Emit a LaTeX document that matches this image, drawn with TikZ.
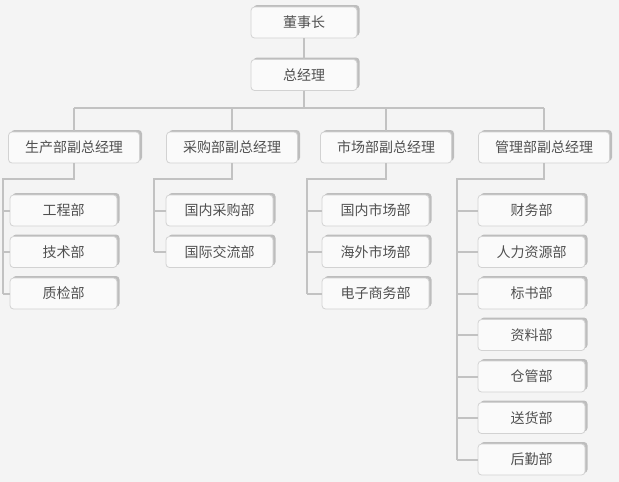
\documentclass[tikz,border=0pt]{standalone}
\usepackage{fontspec}
\setmainfont{Noto Sans CJK SC}
\usetikzlibrary{shadows}
\definecolor{bg}{HTML}{F4F4F4}
\definecolor{boxfill}{HTML}{FAFAFA}
\definecolor{boxline}{HTML}{D2D2D2}
\definecolor{shadowc}{HTML}{BDBDBD}
\definecolor{linec}{HTML}{C2C2C2}
\definecolor{txt}{HTML}{505050}
\begin{document}
\begin{tikzpicture}[x=1pt,y=-1pt,
  box/.style={draw=boxline, line width=0.8pt, fill=boxfill, rounded corners=3.5pt,
    text=txt, font=\fontsize{14pt}{16pt}\selectfont, inner sep=0pt,
    drop shadow={shadow xshift=2.5pt, shadow yshift=2pt, fill=shadowc, opacity=1}},
  topbox/.style={box, minimum width=106pt, minimum height=31pt},
  midbox/.style={box, minimum width=131pt, minimum height=31pt},
  leafbox/.style={box, minimum width=107pt, minimum height=31pt},
  conn/.style={draw=linec, line width=2pt}]
\fill[bg] (0,0) rectangle (619,482);
\useasboundingbox (0,0) rectangle (619,482);
% top
\node[topbox] (ceo) at (304,22.5) {董事长};
\node[topbox] (gm) at (304,75) {总经理};
% level 2
\node[midbox] (prod) at (74,147.5) {生产部副总经理};
\node[midbox] (purch) at (232,147.5) {采购部副总经理};
\node[midbox] (mkt) at (386,147.5) {市场部副总经理};
\node[midbox] (mgmt) at (544,147.5) {管理部副总经理};
% level 3 production
\node[leafbox] (p1) at (63.5,210.5) {工程部};
\node[leafbox] (p2) at (63.5,252) {技术部};
\node[leafbox] (p3) at (63.5,293.5) {质检部};
% purchasing
\node[leafbox] (c1) at (219.5,210.5) {国内采购部};
\node[leafbox] (c2) at (219.5,252) {国际交流部};
% market
\node[leafbox] (m1) at (375.5,210.5) {国内市场部};
\node[leafbox] (m2) at (375.5,252) {海外市场部};
\node[leafbox] (m3) at (375.5,293.5) {电子商务部};
% management
\node[leafbox] (g1) at (531.5,210.5) {财务部};
\node[leafbox] (g2) at (531.5,252) {人力资源部};
\node[leafbox] (g3) at (531.5,293.5) {标书部};
\node[leafbox] (g4) at (531.5,335) {资料部};
\node[leafbox] (g5) at (531.5,376.5) {仓管部};
\node[leafbox] (g6) at (531.5,418) {送货部};
\node[leafbox] (g7) at (531.5,459.5) {后勤部};
% connectors
\coordinate (bus) at (304,108);
\draw[conn] (ceo.south) -- (gm.north);
\draw[conn] (gm.south) -- (bus);
\draw[conn] (prod.north |- bus) -- (mgmt.north |- bus);
\foreach \n in {prod,purch,mkt,mgmt} \draw[conn] (\n.north |- bus) -- (\n.north);
\coordinate (pb) at (3,178.5);
\draw[conn] (prod.south) |- (pb) -- (pb |- p3.west);
\foreach \n in {p1,p2,p3} \draw[conn] (pb |- \n.west) -- (\n.west);
\coordinate (cb) at (154,178.5);
\draw[conn] (purch.south) |- (cb) -- (cb |- c2.west);
\foreach \n in {c1,c2} \draw[conn] (cb |- \n.west) -- (\n.west);
\coordinate (mb) at (307,178.5);
\draw[conn] (mkt.south) |- (mb) -- (mb |- m3.west);
\foreach \n in {m1,m2,m3} \draw[conn] (mb |- \n.west) -- (\n.west);
\coordinate (gb) at (457,178.5);
\draw[conn] (mgmt.south) |- (gb) -- (gb |- g7.west);
\foreach \n in {g1,g2,g3,g4,g5,g6,g7} \draw[conn] (gb |- \n.west) -- (\n.west);
\end{tikzpicture}
\end{document}
